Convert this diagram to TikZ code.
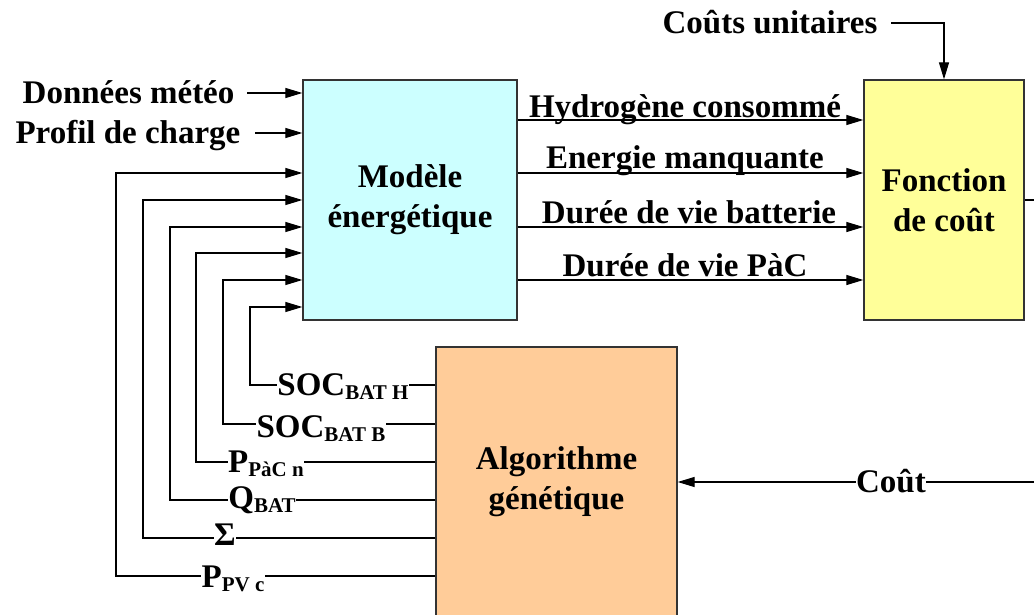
\documentclass[tikz,border=0pt]{standalone}
\usepackage{fontspec}
\setmainfont{Liberation Serif}
\usetikzlibrary{arrows.meta}
\definecolor{mcyan}{HTML}{CCFFFF}
\definecolor{myellow}{HTML}{FFFF99}
\definecolor{morange}{HTML}{FFCC99}
\newcommand{\sbs}[1]{\raisebox{-4pt}{\fontsize{21}{21}\selectfont #1}}
\begin{document}
\begin{tikzpicture}[x=1pt,y=-1pt,line width=1.2pt,
  arr/.style={-{Triangle[length=17pt,width=10pt]}},
  box/.style={draw=black!80,line width=1.3pt,inner sep=0pt,align=center,
    font=\bfseries\fontsize{33}{40}\selectfont},
  lbl/.style={font=\bfseries\fontsize{33}{40}\selectfont,inner sep=1pt},
  wl/.style={lbl,fill=white,inner sep=0.5pt}]
\clip (0,0) rectangle (1034,614);
\fill[white] (0,0) rectangle (1034,614);
% boxes
\node[box,fill=mcyan,minimum width=214pt,minimum height=240pt] (modele) at (410,200) {Modèle\\énergétique};
\node[box,fill=myellow,minimum width=160pt,minimum height=240pt] (fonction) at (944,200) {Fonction\\de coût};
\node[box,fill=morange,minimum width=241pt,minimum height=270pt] (algo) at (556.5,482) {Algorithme\\génétique};
% inputs
\node[lbl,anchor=base east] (dm) at (236,103) {Données météo};
\coordinate (dmS) at (247,93);
\draw[arr] (dmS) -- (modele.west |- dmS);
\node[lbl,anchor=base east] (pc) at (242,143) {Profil de charge};
\coordinate (pcS) at (255,133);
\draw[arr] (pcS) -- (modele.west |- pcS);
% unit costs
\node[lbl,anchor=base] (cu) at (770,33) {Coûts unitaires};
\coordinate (cuS) at (891,23);
\draw[arr] (cuS) -| (fonction.north);
% outputs
\coordinate (o1) at (0,120);
\coordinate (o2) at (0,173);
\coordinate (o3) at (0,227);
\coordinate (o4) at (0,280);
\draw[arr] (modele.east |- o1) -- (fonction.west |- o1);
\draw[arr] (modele.east |- o2) -- (fonction.west |- o2);
\draw[arr] (modele.east |- o3) -- (fonction.west |- o3);
\draw[arr] (modele.east |- o4) -- (fonction.west |- o4);
\node[lbl,anchor=base] (t1) at (685,117) {Hydrogène consommé};
\node[lbl,anchor=base] (t2) at (685,168) {Energie manquante};
\node[lbl,anchor=base] (t3) at (689,223) {Durée de vie batterie};
\node[lbl,anchor=base] (t4) at (685,276) {Durée de vie PàC};
% cost loop
\coordinate (rE) at (1040,200);
\draw (fonction.east) -- (rE);
\coordinate (cE) at (1040,482);
\draw[arr] (cE) -- (algo.east |- cE);
\node[wl,anchor=base] (cout) at (891,492) {Coût};
% feedback
\coordinate (fH) at (250,385); \coordinate (iH) at (0,307);
\coordinate (fB) at (223,424); \coordinate (iB) at (0,280);
\coordinate (fP) at (196,462); \coordinate (iP) at (0,253);
\coordinate (fQ) at (170,500); \coordinate (iQ) at (0,227);
\coordinate (fS) at (143,538); \coordinate (iS) at (0,200);
\coordinate (fV) at (116,576); \coordinate (iV) at (0,173);
\draw[arr] (algo.west |- fH) -- (fH) |- (modele.west |- iH);
\draw[arr] (algo.west |- fB) -- (fB) |- (modele.west |- iB);
\draw[arr] (algo.west |- fP) -- (fP) |- (modele.west |- iP);
\draw[arr] (algo.west |- fQ) -- (fQ) |- (modele.west |- iQ);
\draw[arr] (algo.west |- fS) -- (fS) |- (modele.west |- iS);
\draw[arr] (algo.west |- fV) -- (fV) |- (modele.west |- iV);
\node[wl,anchor=base] (lH) at (343,395) {SOC\sbs{BAT H}};
\node[wl,anchor=base] (lB) at (321,437) {SOC\sbs{BAT B}};
\node[wl,anchor=base] (lP) at (266,472) {P\sbs{PàC n}};
\node[wl,anchor=base] (lQ) at (262,508) {Q\sbs{BAT}};
\node[wl,anchor=base] (lS) at (225,545) {Σ};
\node[wl,anchor=base] (lV) at (233,587) {P\sbs{PV c}};
\end{tikzpicture}
\end{document}
